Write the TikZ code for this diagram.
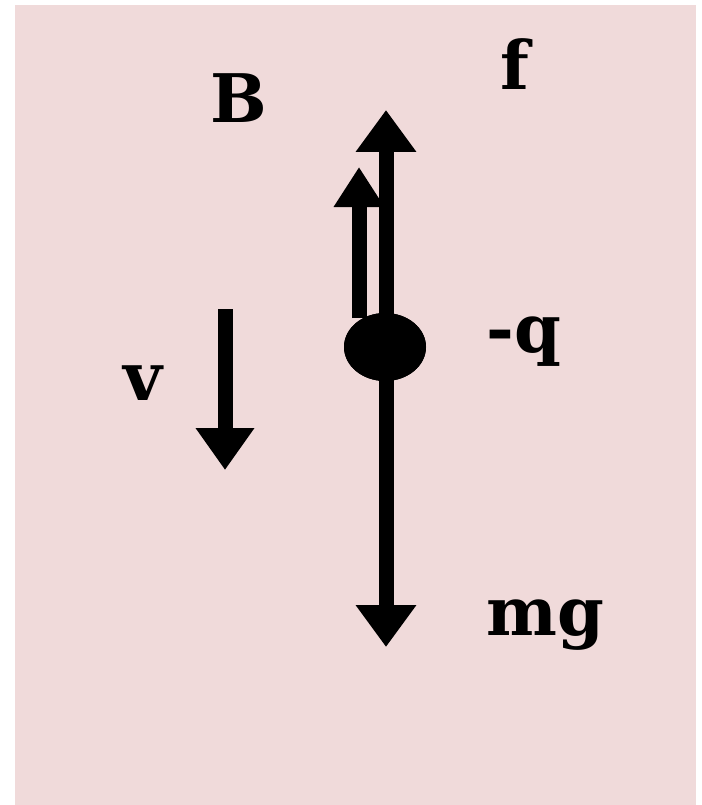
\documentclass[tikz,border=0pt]{standalone}
\usepackage{fontspec}
\setmainfont{DejaVu Serif}
\usetikzlibrary{arrows.meta,shapes.geometric}
\definecolor{bgpink}{RGB}{240,218,218}
\begin{document}
\begin{tikzpicture}[x=1pt,y=-1pt,
  vec/.style={line width=15pt, -{Triangle[width=58pt,length=42pt]}},
  smallvec/.style={line width=15pt, -{Triangle[width=48pt,length=40pt]}},
  lbl/.style={font=\fontsize{67}{70}\selectfont\bfseries, inner sep=0pt, anchor=base}]
\useasboundingbox (0,0) rectangle (701,805);
\fill[white] (0,0) rectangle (701,805);
\fill[bgpink] (15,5) rectangle (696,805);
% charge
\node[draw=none, fill=black, ellipse, minimum width=82pt, minimum height=68pt, inner sep=0pt] (q) at (385,347) {};
\coordinate (qc) at (386,347);
\coordinate (ftip) at (386,110);
\coordinate (mgtip) at (386,647);
\coordinate (ltail) at (359,318);
\coordinate (ltip) at (359,167);
\coordinate (vtail) at (225,309);
\coordinate (vtip) at (225,470);
\draw[vec] (qc) -- (ftip);
\draw[vec] (qc) -- (mgtip);
\draw[smallvec] (ltail) -- (ltip);
\draw[vec, -{Triangle[width=56pt,length=42pt]}] (vtail) -- (vtip);
\fill[black] (q.center) ellipse [x radius=41pt, y radius=34pt];
% labels
\node[lbl] (B) at (239,123) {B};
\node[lbl] (f) at (515,90) {f};
\node[lbl] (mq) at (524,352) {-q};
\node[lbl] (v) at (143,400) {v};
\node[lbl] (mg) at (545,635) {mg};
\end{tikzpicture}
\end{document}
